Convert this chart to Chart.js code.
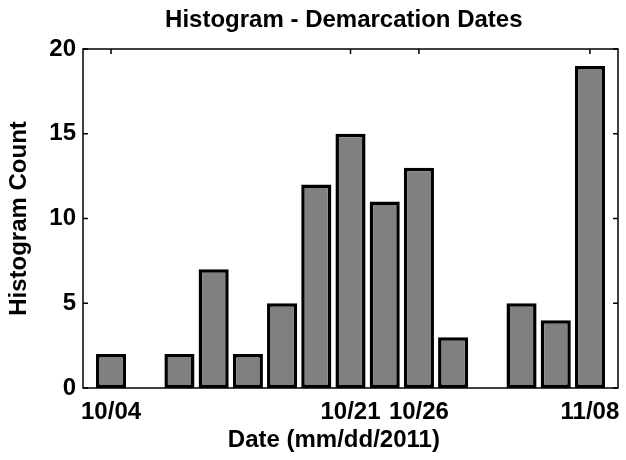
<!DOCTYPE html>
<html>
<head>
<meta charset="utf-8">
<title>Histogram - Demarcation Dates</title>
<script src="https://cdn.jsdelivr.net/npm/chart.js@4.4.1/dist/chart.umd.min.js"></script>
<style>
  html, body { margin: 0; padding: 0; background: #fff; }
  #wrap { width: 626px; height: 460px; }
</style>
</head>
<body>
<div id="wrap"><canvas id="histChart" width="626" height="460"></canvas></div>
<script>
// Histogram counts, one bin every 2.5 days starting 10/04
const binCounts = [2, 0, 2, 7, 2, 5, 12, 15, 11, 13, 3, 0, 5, 4, 19];
const xTickBins = [0, 7, 9, 14];
const xTickLabels = ['10/04', '10/21', '10/26', '11/08'];
const yTickValues = [0, 5, 10, 15, 20];

const FONT = '"Liberation Sans", Arial, Helvetica, sans-serif';
Chart.defaults.font.family = FONT;
Chart.defaults.color = '#000';

// Matlab style box around the axes with inward ticks
const axesBox = {
    id: 'axesBox',
    afterDraw(chart) {
        const { ctx, chartArea: a, scales: { x, y } } = chart;
        ctx.save();
        ctx.strokeStyle = '#000';
        ctx.lineWidth = 1.5;
        ctx.strokeRect(a.left, a.top, a.right - a.left, a.bottom - a.top);

        ctx.beginPath();
        yTickValues.forEach(v => {
            const py = y.getPixelForValue(v);
            ctx.moveTo(a.left, py);
            ctx.lineTo(a.left + 5, py);
            ctx.moveTo(a.right, py);
            ctx.lineTo(a.right - 5, py);
        });
        xTickBins.forEach(v => {
            const px = x.getPixelForValue(v);
            ctx.moveTo(px, a.top);
            ctx.lineTo(px, a.top + 5);
        });
        ctx.stroke();
        ctx.restore();
    }
};

const ctx = document.getElementById('histChart');

new Chart(ctx, {
    type: 'bar',
    data: {
        datasets: [{
            label: 'Histogram Count',
            data: binCounts.map((c, i) => ({ x: i, y: c })),
            backgroundColor: '#808080',
            borderColor: '#000',
            borderWidth: 3.5,
            borderSkipped: false,
            categoryPercentage: 1,
            barPercentage: 0.88
        }]
    },
    options: {
        responsive: false,
        animation: false,
        layout: { padding: { left: 0, right: 8, top: 0, bottom: 0 } },
        plugins: {
            legend: { display: false },
            tooltip: { enabled: false },
            title: {
                display: true,
                fullSize: false,
                // trailing spaces nudge the centred text a bit to the left
                text: 'Histogram - Demarcation Dates  ',
                color: '#000',
                font: { size: 24, weight: 'bold' },
                padding: { top: 6, bottom: 14.2 }
            }
        },
        scales: {
            x: {
                type: 'linear',
                offset: false,
                min: -0.82,
                max: 14.82,
                grid: { display: false, drawTicks: false, offset: false },
                border: { display: false },
                afterBuildTicks: s => { s.ticks = xTickBins.map(v => ({ value: v })); },
                afterFit: s => {
                    s.height = 72;
                    s.paddingLeft = 0;
                    s.paddingRight = 0;
                },
                ticks: {
                    autoSkip: false,
                    maxRotation: 0,
                    padding: 10,
                    color: '#000',
                    font: { size: 24, weight: 'bold' },
                    callback: v => xTickLabels[xTickBins.indexOf(v)]
                },
                title: {
                    display: true,
                    text: 'Date (mm/dd/2011)     ',
                    color: '#000',
                    font: { size: 24, weight: 'bold' },
                    padding: { top: 0, bottom: 5 }
                }
            },
            y: {
                min: 0,
                max: 20,
                grid: { display: false, drawTicks: false },
                border: { display: false },
                afterBuildTicks: s => { s.ticks = yTickValues.map(v => ({ value: v })); },
                afterFit: s => {
                    s.width = 83;
                    s.paddingTop = 0;
                    s.paddingBottom = 0;
                },
                ticks: {
                    padding: 7,
                    color: '#000',
                    font: { size: 24, weight: 'bold' }
                },
                title: {
                    display: true,
                    text: 'Histogram Count',
                    color: '#000',
                    font: { size: 24, weight: 'bold' },
                    padding: { top: 5, bottom: 0 }
                }
            }
        }
    },
    plugins: [axesBox]
});
</script>
</body>
</html>
